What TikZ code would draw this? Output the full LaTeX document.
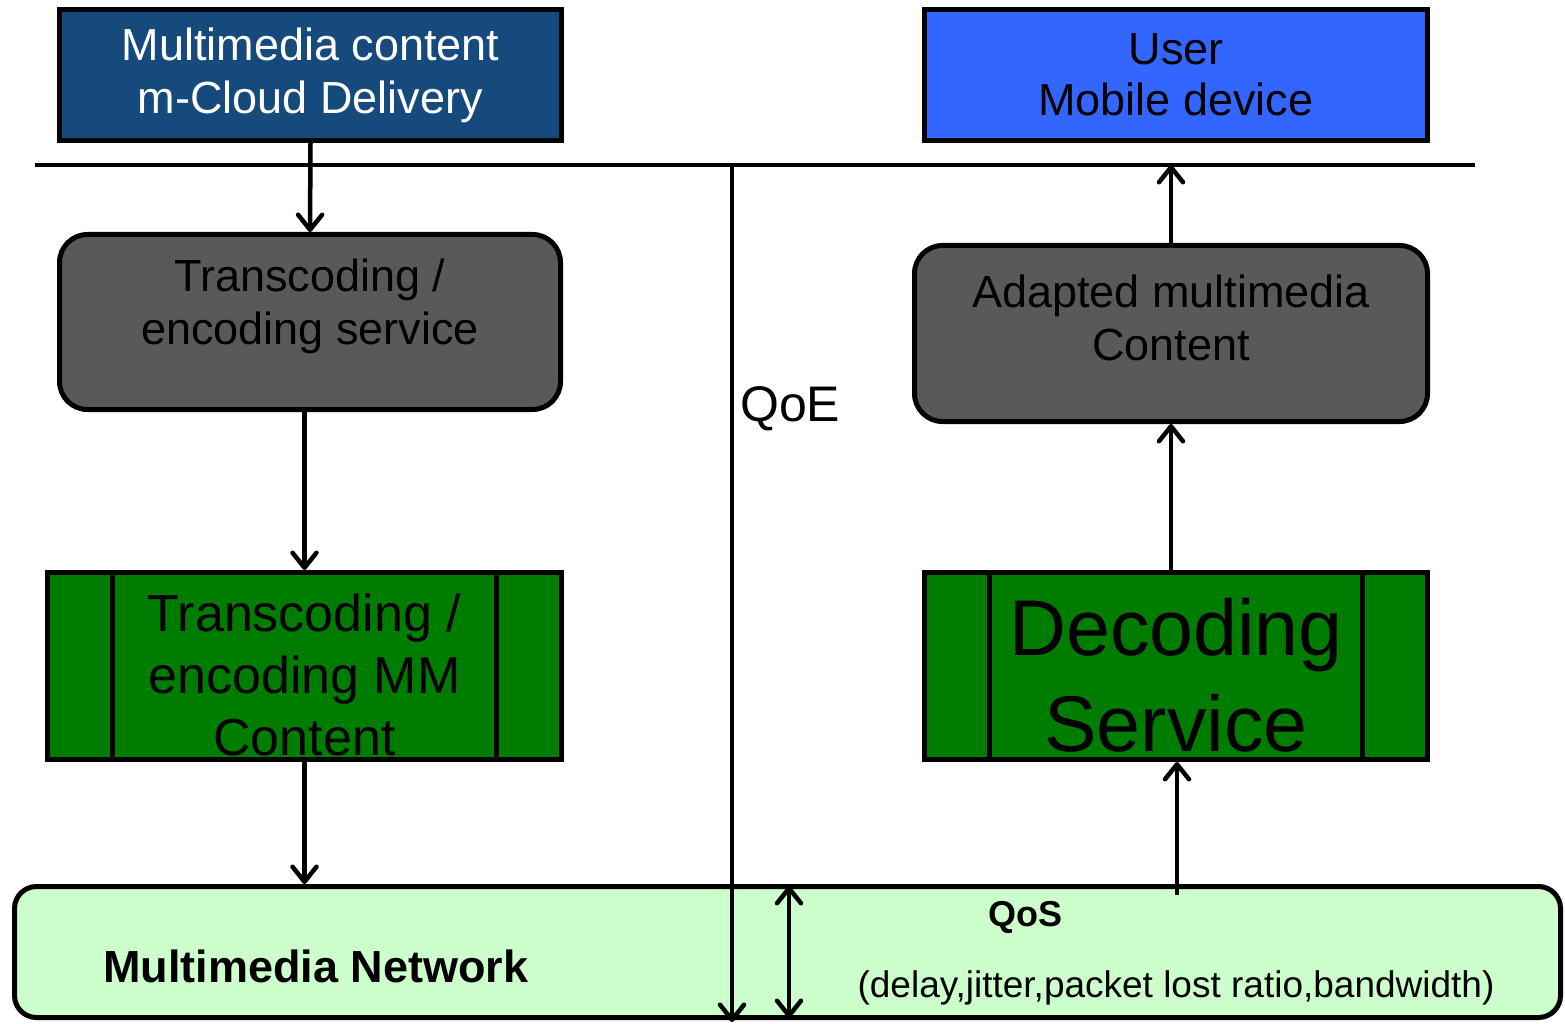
\documentclass[tikz,border=0pt]{standalone}
\usepackage{fontspec}
\setmainfont{Liberation Sans}
\usetikzlibrary{arrows.meta}
\definecolor{clouddark}{RGB}{23,74,124}
\definecolor{userblue}{RGB}{51,102,255}
\definecolor{servgray}{RGB}{89,89,89}
\definecolor{mmgreen}{RGB}{0,124,0}
\definecolor{netgreen}{RGB}{204,255,204}
\newcommand{\fs}[2]{\fontsize{#1}{#2}\selectfont}

\begin{document}
\begin{tikzpicture}[x=1pt,y=-1pt,
      every node/.style={inner sep=0pt,align=center,font=\fs{45}{53}},
      box/.style={draw,line width=5pt},
      service/.style={box,fill=servgray,rounded corners=28pt},
      procbox/.style={box,fill=mmgreen,
        path picture={\draw[line width=5pt]
          ([xshift=65pt]path picture bounding box.north west) -- ([xshift=65pt]path picture bounding box.south west)
          ([xshift=-65pt]path picture bounding box.north east) -- ([xshift=-65pt]path picture bounding box.south east);}},
      barb/.tip={Straight Barb[length=15pt,width=24pt,round]},
      arr/.style={line width=4.5pt,-barb},
      dblarr/.style={line width=4.5pt,barb-barb}
    ]
      \useasboundingbox (0,0) rectangle (1565,1024);

      \node[box,fill=clouddark,text=white,minimum width=502pt,minimum height=131pt] (mcd) at (310.5,75)
        {Multimedia content\\m-Cloud Delivery};
      \node[box,fill=userblue,minimum width=503pt,minimum height=131pt] (user) at (1176,75)
        {User\\[-2pt]Mobile device};

      \node[service,minimum width=501pt,minimum height=175pt] (trans) at (310,322) {};
      \node (transtext) at ([yshift=16pt]trans.center) {Transcoding /\\encoding service};
      \node[service,minimum width=513pt,minimum height=176pt] (adapted) at (1171,333.5) {};
      \node (adaptedtext) at ([yshift=16pt]adapted.center) {Adapted multimedia\\Content};

      \node[procbox,minimum width=514pt,minimum height=187pt] (mmc) at (304.5,666) {};
      \node[font=\fs{52}{62}] (mmctext) at ([yshift=-9pt]mmc.center) {Transcoding /\\encoding MM\\Content};
      \node[procbox,minimum width=503pt,minimum height=187pt] (dec) at (1176,666) {};
      \node[font=\fs{79}{96}] (dectext) at ([yshift=-9pt]dec.center) {Decoding\\Service};

      \node[box,fill=netgreen,rounded corners=22pt,minimum width=1546pt,minimum height=131pt] (net) at (787.5,952) {};
      \node[font=\bfseries\fs{45}{53}] (nettext) at (316,966) {Multimedia Network};
      \node[font=\bfseries\fs{36}{42}] (qos) at (1025,917) {QoS};
      \node[font=\fs{37}{44}] (qosparams) at (1176,988) {(delay,jitter,packet lost ratio,bandwidth)};

      \coordinate (busL) at (35,165);
      \coordinate (busR) at (1475,165);
      \coordinate (qoeT) at (732,165);
      \coordinate (qoeB) at (732,1022);
      \coordinate (qosT) at (789,886);
      \coordinate (qosB) at (789,1018);
      \coordinate (decin) at (1177,895);

      \draw[line width=4.5pt] (busL) -- (busR);
      \draw[arr] (qoeT) -- (qoeB);
      \node[font=\fs{50}{60},anchor=west] (qoe) at (740,409) {QoE};
      \draw[dblarr] (qosT) -- (qosB);

      \draw[arr] (mcd.south) -- (trans.north);
      \draw[arr] (mmc.north |- trans.south) -- (mmc.north);
      \draw[arr] (mmc.south) -- (mmc.south |- net.north);
      \draw[arr] (decin) -- (decin |- dec.south);
      \draw[arr] (adapted.south |- dec.north) -- (adapted.south);
      \draw[arr] (adapted.north) -- (adapted.north |- busR);
    \end{tikzpicture}
\end{document}
